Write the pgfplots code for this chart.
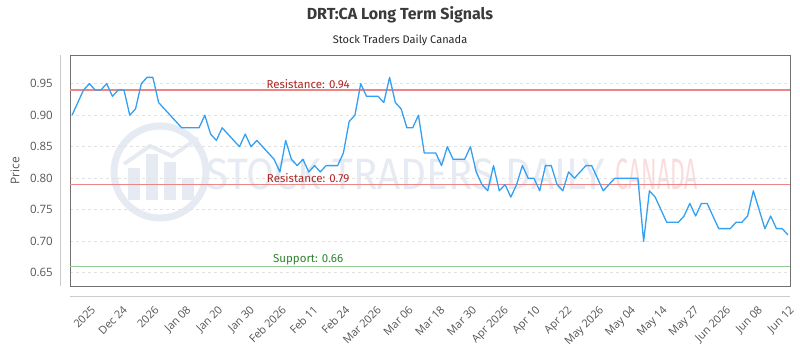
\documentclass[border=0pt]{standalone}
\usepackage{pgfplots}
\usepackage{pgfplotstable}
\pgfplotsset{compat=1.18}
\usepackage{fontspec}
\setmainfont{Fira Sans}
\newfontfamily\tickfont{Open Sans}

\definecolor{priceblue}{RGB}{52,160,242}
\definecolor{resline}{RGB}{236,134,134}
\definecolor{supline}{RGB}{146,204,146}
\definecolor{restext}{RGB}{172,38,38}
\definecolor{suptext}{RGB}{44,132,44}
\definecolor{framegray}{RGB}{112,112,112}
\definecolor{axisgray}{RGB}{204,204,204}
\definecolor{gridgray}{RGB}{226,226,226}
\definecolor{titlegray}{RGB}{58,58,58}
\definecolor{labelgray}{RGB}{85,85,85}
\definecolor{markblue}{RGB}{230,234,242}
\definecolor{markred}{RGB}{251,220,220}

% daily closes, one row per session
\pgfplotstableread{
i p
0 0.90
1 0.92
2 0.94
3 0.95
4 0.94
5 0.94
6 0.95
7 0.93
8 0.94
9 0.94
10 0.90
11 0.91
12 0.95
13 0.96
14 0.96
15 0.92
16 0.91
17 0.90
18 0.89
19 0.88
20 0.88
21 0.88
22 0.88
23 0.90
24 0.87
25 0.86
26 0.88
27 0.87
28 0.86
29 0.85
30 0.87
31 0.85
32 0.86
33 0.85
34 0.84
35 0.83
36 0.81
37 0.86
38 0.83
39 0.82
40 0.83
41 0.81
42 0.82
43 0.81
44 0.82
45 0.82
46 0.82
47 0.84
48 0.89
49 0.90
50 0.95
51 0.93
52 0.93
53 0.93
54 0.92
55 0.96
56 0.92
57 0.91
58 0.88
59 0.88
60 0.90
61 0.84
62 0.84
63 0.84
64 0.82
65 0.85
66 0.83
67 0.83
68 0.83
69 0.85
70 0.81
71 0.79
72 0.78
73 0.82
74 0.78
75 0.79
76 0.77
77 0.79
78 0.82
79 0.80
80 0.80
81 0.78
82 0.82
83 0.82
84 0.79
85 0.78
86 0.81
87 0.80
88 0.81
89 0.82
90 0.82
91 0.80
92 0.78
93 0.79
94 0.80
95 0.80
96 0.80
97 0.80
98 0.80
99 0.70
100 0.78
101 0.77
102 0.75
103 0.73
104 0.73
105 0.73
106 0.74
107 0.76
108 0.74
109 0.76
110 0.76
111 0.74
112 0.72
113 0.72
114 0.72
115 0.73
116 0.73
117 0.74
118 0.78
119 0.75
120 0.72
121 0.74
122 0.72
123 0.72
124 0.71
}\prices

\begin{document}
\begin{tikzpicture}[x=1pt,y=1pt]
\path[use as bounding box] (0,0) rectangle (800,350);

% watermark
\begin{scope}
  \draw[markblue, line width=7pt] (160,178) circle (46);
  \fill[markblue] (128,150) rectangle (140,182);
  \fill[markblue] (146,150) rectangle (158,196);
  \fill[markblue] (164,150) rectangle (176,188);
  \fill[markblue] (182,150) rectangle (194,172);
  \draw[markblue, line width=4pt] (124,186) -- (150,204) -- (172,194) -- (198,212);
  \node[anchor=west, inner sep=0pt, text=markblue, xscale=0.92,
        font=\fontsize{44}{44}\selectfont] at (206,176) {STOCK TRADERS DAILY};
  \node[anchor=east, inner sep=0pt, text=markred, xscale=0.52,
        font=\fontsize{44}{44}\selectfont] at (698,176) {CANADA};
\end{scope}

\node[font=\fontsize{16}{18}\selectfont\bfseries, text=titlegray] at (400,335) {DRT:CA Long Term Signals};
\node[font=\fontsize{11}{13}\selectfont, text=black!85] at (400,310) {Stock Traders Daily Canada};

\begin{axis}[
  at={(70pt,64pt)}, anchor=south west,
  scale only axis, width=720pt, height=231pt,
  xmin=-0.35, xmax=124.35,
  ymin=0.629, ymax=0.9955,
  axis line style={framegray, line width=0.8pt},
  major tick length=0pt,
  xtick={3,8.5,...,124},
  xticklabels={2025, Dec 24, 2026, Jan 08, Jan 20, Jan 30, Feb 2026, Feb 11, Feb 24, Mar 2026, Mar 06, Mar 18, Mar 30, Apr 2026, Apr 10, Apr 22, May 2026, May 04, May 14, May 27, Jun 2026, Jun 08, Jun 12},
  xticklabel style={font=\tickfont\fontsize{11}{12}\selectfont, text=labelgray,
    rotate=45, anchor=north east, inner sep=0pt, xshift=-12.5pt, yshift=-14pt},
  ytick={0.65,0.7,0.75,0.8,0.85,0.9,0.95},
  yticklabel style={font=\tickfont\fontsize{11.5}{12}\selectfont, text=labelgray,
    anchor=east, inner sep=0pt, xshift=-17pt,
    /pgf/number format/.cd, fixed, fixed zerofill, precision=2, assume math mode=true},
  ymajorgrids,
  major grid style={gridgray, dashed, line width=0.6pt},
  ylabel={Price},
  ylabel style={font=\tickfont\fontsize{12}{13}\selectfont, text=labelgray,
    at={(axis description cs:0,0.5)}, anchor=center, yshift=55pt},
  clip=false,
]
\addplot[resline, line width=1.8pt] coordinates {(-0.35,0.94) (124.35,0.94)};
\addplot[resline, line width=1.8pt] coordinates {(-0.35,0.79) (124.35,0.79)};
\addplot[supline, line width=1.8pt] coordinates {(-0.35,0.66) (124.35,0.66)};
\addplot[priceblue, line width=1.3pt, line join=round] table[x=i, y=p] {\prices};
\node[anchor=south, inner sep=1.5pt, text=restext, font=\fontsize{11.5}{12}\selectfont] at (axis cs:40.9,0.94) {Resistance: 0.94};
\node[anchor=south, inner sep=1.5pt, text=restext, font=\fontsize{11.5}{12}\selectfont] at (axis cs:40.9,0.79) {Resistance: 0.79};
\node[anchor=south, inner sep=1.5pt, text=suptext, font=\fontsize{11.5}{12}\selectfont] at (axis cs:40.9,0.66) {Support: 0.66};
\end{axis}

% detached axis rules
\draw[axisgray, line width=0.8pt] (60,64) -- (60,295);
\draw[axisgray, line width=0.8pt] (70,54) -- (790,54);
\end{tikzpicture}
\end{document}
